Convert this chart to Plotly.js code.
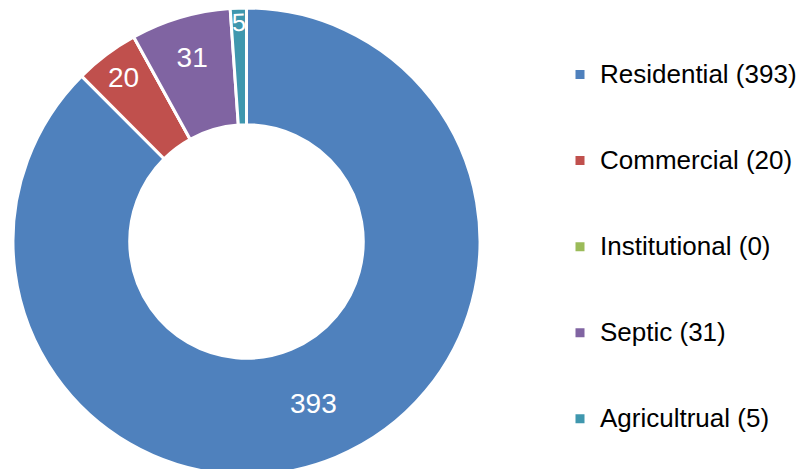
<!DOCTYPE html>
<html>
<head>
<meta charset="utf-8">
<script src="https://cdn.plot.ly/plotly-3.0.1.min.js"></script>
<style>
  html, body { margin: 0; padding: 0; background: #fff; overflow: hidden; }
  #chart { width: 804px; height: 483px; }
</style>
</head>
<body>
<div id="chart"></div>
<script>
// ---- data ----
const categories = ["Residential", "Commercial", "Institutional", "Septic", "Agricultrual"];
const counts = [393, 20, 0, 31, 5];
const sliceColors = ["#4F81BD", "#C0504D", "#9BBB59", "#8064A2", "#3F97AE"];

const FONT = '"Liberation Sans Narrow", "Arial Narrow", "Liberation Sans", Arial, sans-serif';

// legend labels: "Name (count)", padded with blank lines for spacing
const legendLabels = categories.map((c, i) =>
  '\u00a0<br><span style="font-size:26px">' + c + ' (' + counts[i] + ')</span><br>\u00a0');
const sliceText = counts.map(v => (v > 0 ? String(v) : ''));

const trace = {
  type: 'pie',
  labels: legendLabels,
  values: counts,
  text: sliceText,
  texttemplate: '%{text}',
  textposition: 'inside',
  insidetextorientation: 'auto',
  insidetextfont: { family: FONT, size: 28, color: '#ffffff' },
  hole: 0.5,
  sort: false,
  direction: 'clockwise',
  rotation: 0,
  marker: { colors: sliceColors, line: { color: '#ffffff', width: 3 } },
  domain: { x: [13 / 804, 480 / 804], y: [0, 1] },
  hoverinfo: 'none'
};

const layout = {
  width: 804,
  height: 483,
  margin: { l: 0, r: 0, t: 0, b: 0 },
  paper_bgcolor: '#ffffff',
  plot_bgcolor: '#ffffff',
  showlegend: true,
  legend: {
    x: 560 / 804,
    xanchor: 'left',
    y: 1 - 26.5 / 483,
    yanchor: 'top',
    font: { family: FONT, size: 21.3, color: '#000000' },
    bgcolor: 'rgba(0,0,0,0)',
    borderwidth: 0,
    traceorder: 'normal'
  }
};

Plotly.newPlot('chart', [trace], layout, { displayModeBar: false, staticPlot: true });
</script>
</body>
</html>
